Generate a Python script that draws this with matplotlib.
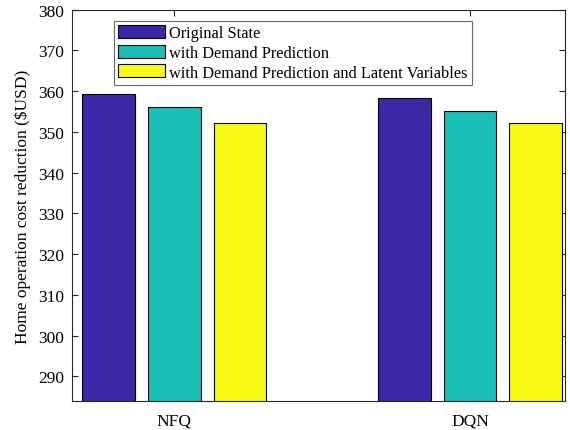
import matplotlib.pyplot as plt
import numpy as np

# Data
categories = ['NFQ', 'DQN']
series_labels = ['Original State', 'with Demand Prediction',
                 'with Demand Prediction and Latent Variables']
original_state = [359.2, 358.4]
demand_pred = [356.2, 355.2]
demand_pred_latent = [352.2, 352.2]
yticks = [290, 300, 310, 320, 330, 340, 350, 360, 370, 380]

colors = ['#3E26A8', '#19BFB6', '#F8F815']

plt.rcParams['font.family'] = ['Liberation Serif', 'DejaVu Serif']

fig = plt.figure(figsize=(5.7, 4.31), dpi=100)
ax = fig.add_axes([0.1268, 0.0666, 0.9912 - 0.1268, 0.9752 - 0.0666])

x = np.arange(1, len(categories) + 1)
# MATLAB-style grouped bars
step = 0.2222
width = 0.178
all_series = [original_state, demand_pred, demand_pred_latent]
for i, vals in enumerate(all_series):
    ax.bar(x + (i - 1) * step, vals, width, color=colors[i], edgecolor='black',
           linewidth=0.8, label=series_labels[i], zorder=2)

ax.set_xlim(0.655, 2.321)
ax.set_ylim(283.86, 380)
ax.set_xticks(x)
ax.set_xticklabels(categories, fontsize=12.5)
ax.set_yticks(yticks)
ax.tick_params(axis='y', labelsize=12.5)
ax.tick_params(direction='in', top=True, right=True, length=4, width=0.8,
               color='#262626')
ax.tick_params(axis='x', pad=8)
ax.tick_params(axis='y', pad=6)
for s in ax.spines.values():
    s.set_color('#262626')
    s.set_linewidth(0.8)
ax.set_ylabel('Home operation cost reduction ($USD)', fontsize=12.5, labelpad=5)

leg = ax.legend(loc='upper left', bbox_to_anchor=(0.0852, 0.971),
                fontsize=11.8, fancybox=False, edgecolor='#444444',
                handlelength=2.85, handleheight=0.82, handletextpad=0.25,
                labelspacing=0.22, borderpad=0.25, borderaxespad=0)
leg.get_frame().set_linewidth(0.8)

plt.savefig('out.png', dpi=100)
